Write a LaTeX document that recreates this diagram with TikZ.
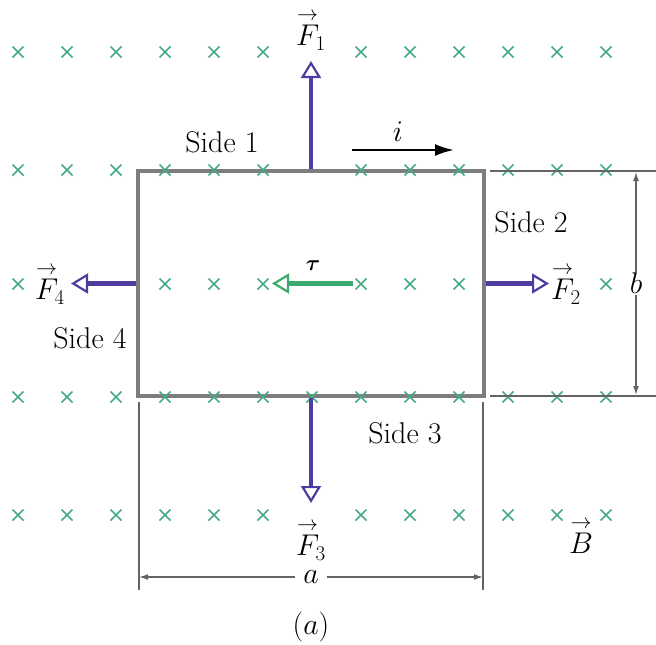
\RequirePackage{fix-cm}
\documentclass[tikz,border=0pt]{standalone}
\usepackage{amsmath}
\usetikzlibrary{arrows.meta,positioning}
\definecolor{fieldgreen}{RGB}{70,170,130}
\definecolor{forceblue}{RGB}{80,60,160}
\definecolor{torquegreen}{RGB}{60,170,110}
\definecolor{wiregray}{RGB}{125,125,125}
\newcommand{\vecF}[1]{\overset{\scriptstyle\rightarrow}{#1}}

\begin{document}
\begin{tikzpicture}[x=1pt, y=-1pt,
  font=\fontsize{30}{36}\selectfont,
  cross/.style={fieldgreen, line width=1.7pt},
  force/.style={forceblue, line width=4.5pt,
                -{Triangle[open, length=17pt, width=20pt, line width=2.2pt]}},
  torque/.style={torquegreen, line width=4.5pt,
                 -{Triangle[open, length=17pt, width=20pt, line width=2.2pt]}},
  dimline/.style={wiregray!80!black, line width=1.3pt},
  dimarrow/.style={dimline, -{Latex[length=9pt, width=6pt]}},
  label/.style={inner sep=1pt}
]
  \useasboundingbox (0,0) rectangle (656,645);

  % Current loop
  \node[draw=wiregray, line width=4pt, minimum width=346pt,
        minimum height=225pt, inner sep=0pt] (loop) at (311,283.5) {};

  % Magnetic field into the page
  \foreach \y/\cols in {52/{0,1,2,3,4,5,7,8,9,10,11,12},
                        170/{0,1,2,3,4,5,7,8,9,10,11,12},
                        284/{0,3,4,5,7,8,9,12},
                        397/{0,1,2,3,4,5,6,7,8,9,10,11,12},
                        515/{0,1,2,3,4,5,7,8,9,10,11,12}}
    \foreach \c in \cols {
      \pgfmathsetmacro{\x}{18+49*\c}
      \draw[cross] (\x-5.5,\y-5.5) -- (\x+5.5,\y+5.5)
                   (\x-5.5,\y+5.5) -- (\x+5.5,\y-5.5);
    }

  % Side labels
  \node[label] (side1) at (222,142) {Side 1};
  \node[label] (side2) at (531,222) {Side 2};
  \node[label] (side3) at (405,433) {Side 3};
  \node[label] (side4) at (90,338)  {Side 4};

  % Forces on the sides
  \coordinate (F1tip) at (311,61);
  \coordinate (F2tip) at (549,283.5);
  \coordinate (F3tip) at (311,503);
  \coordinate (F4tip) at (71,283.5);
  \draw[force] (loop.north) -- (F1tip);
  \draw[force] (loop.east)  -- (F2tip);
  \draw[force] (loop.south) -- (F3tip);
  \draw[force] (loop.west)  -- (F4tip);
  \node[label] (F1) at (311,30)  {$\vecF{F}_{\!1}$};
  \node[label] (F2) at (566,284) {$\vecF{F}_{\!2}$};
  \node[label] (F3) at (311,540) {$\vecF{F}_{\!3}$};
  \node[label] (F4) at (50,284)  {$\vecF{F}_{\!4}$};

  % Torque
  \coordinate (tautail) at (353,283.5);
  \coordinate (tautip) at (272,283.5);
  \draw[torque] (tautail) -- (tautip);
  \node[label, font=\fontsize{22}{26}\selectfont] (tau) at (313,266) {$\boldsymbol{\tau}$};

  % Current
  \coordinate (itail) at (352,150);
  \coordinate (ihead) at (454,150);
  \draw[line width=2.4pt, -{Latex[length=19pt, width=12pt]}] (itail) -- (ihead);
  \node[label] (i) at (398,132) {$i$};

  % Field label
  \node[label] (B) at (581,536) {$\vecF{B}$};

  % Dimension b
  \coordinate (bext1) at (490,171);
  \coordinate (bext1e) at (656,171);
  \coordinate (bext2) at (490,396);
  \coordinate (bext2e) at (656,396);
  \draw[dimline] (bext1) -- (bext1e);
  \draw[dimline] (bext2) -- (bext2e);
  \node[label, fill=white] (b) at (636,283.5) {$b$};
  \coordinate (btop) at (636,172);
  \coordinate (bbot) at (636,395);
  \draw[dimarrow] (b) -- (btop);
  \draw[dimarrow] (b) -- (bbot);

  % Dimension a
  \coordinate (aext1) at (139,402);
  \coordinate (aext1e) at (139,590);
  \coordinate (aext2) at (483,402);
  \coordinate (aext2e) at (483,590);
  \draw[dimline] (aext1) -- (aext1e);
  \draw[dimline] (aext2) -- (aext2e);
  \node[label, inner xsep=8pt] (a) at (311,577) {$a$};
  \coordinate (aleft) at (139,577);
  \coordinate (aright) at (483,577);
  \draw[dimarrow] (a) -- (aleft);
  \draw[dimarrow] (a) -- (aright);

  % Caption
  \node[label] (caption) at (311,627) {$(a)$};
\end{tikzpicture}
\end{document}
